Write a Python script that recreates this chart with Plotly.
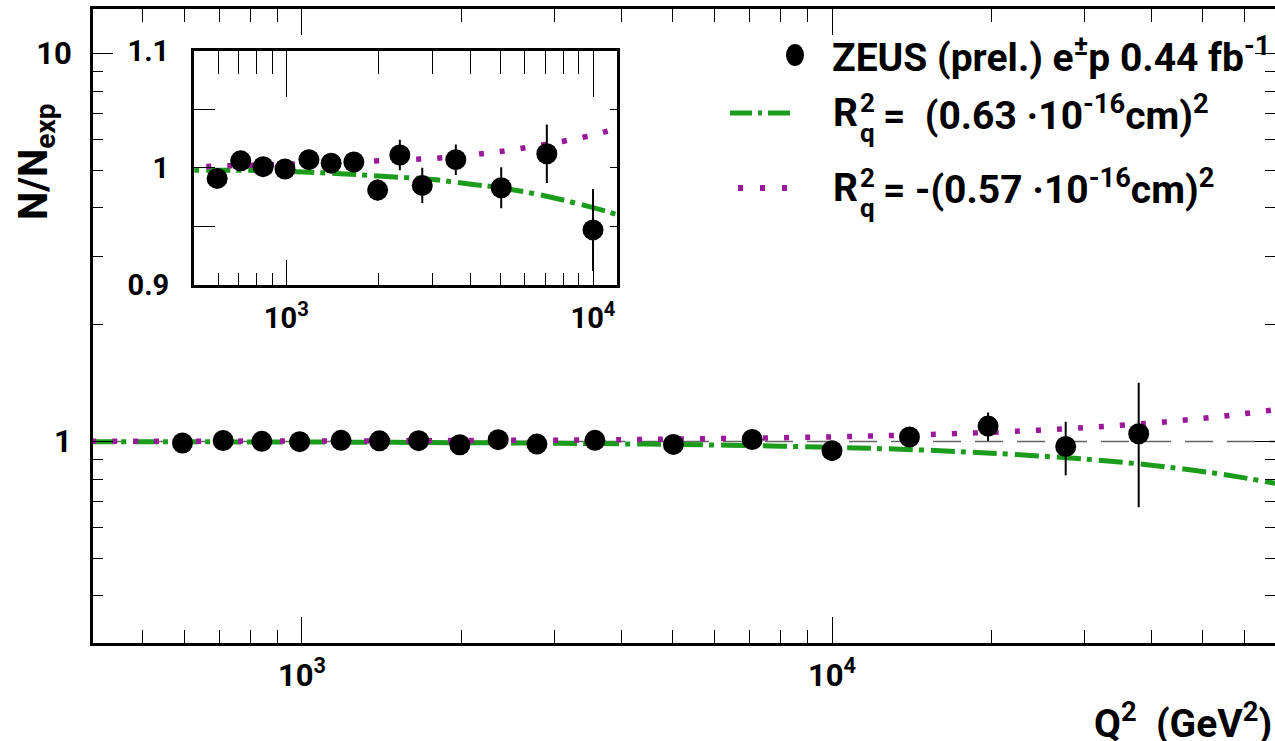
import math
import plotly.graph_objects as go

W, H = 1275, 741

# ---------------- data ----------------
Q2 = [595, 710, 840, 990, 1185, 1400, 1660, 1985, 2345, 2775, 3570, 5020, 7070,
      10000, 14000, 19700, 27600, 37900]
RATIO = [0.991, 1.006, 1.001, 0.999, 1.007, 1.004, 1.005, 0.981, 1.011, 0.985,
         1.007, 0.983, 1.012, 0.947, 1.027, 1.096, 0.971, 1.047]
ERR = [0.006, 0.006, 0.006, 0.007, 0.007, 0.008, 0.008, 0.009, 0.013, 0.015,
       0.013, 0.0175, 0.025, 0.035, 0.045, 0.092, 0.153, 0.37]
N_INSET = 14  # points shown in the inset

CURVE_Q2 = [400, 500, 700, 1000, 1500, 2000, 3000, 4000, 5000, 7000, 10000,
            12000, 15000, 20000, 30000, 40000, 50000, 60000, 70000]
R2_POS = [0.999, 0.998, 0.998, 0.997, 0.995, 0.993, 0.990, 0.986, 0.983, 0.976,
          0.966, 0.960, 0.950, 0.933, 0.901, 0.869, 0.837, 0.806, 0.776]
R2_NEG = [1.001, 1.001, 1.002, 1.003, 1.004, 1.006, 1.008, 1.011, 1.014, 1.020,
          1.028, 1.034, 1.042, 1.056, 1.086, 1.116, 1.147, 1.180, 1.213]
REF = 1.0

MAIN_X_MAJOR = [1e3, 1e4]
MAIN_X_LABELS = ["10<sup>3</sup>", "10<sup>4</sup>"]
MAIN_X_MINOR = [500, 600, 700, 800, 900, 2000, 3000, 4000, 5000, 6000, 7000,
                8000, 9000, 20000, 30000, 40000, 50000, 60000]
MAIN_Y_MAJOR = [1, 10]
MAIN_Y_LABELS = ["1", "10"]
MAIN_Y_MINOR = [0.4, 0.5, 0.6, 0.7, 0.8, 0.9, 2, 3, 4, 5, 6, 7, 8, 9]
INS_X_MINOR = [600, 700, 800, 900, 2000, 3000, 4000, 5000, 6000, 7000, 8000, 9000]
INS_Y_MAJOR = [0.9, 1.0, 1.1]
INS_Y_LABELS = ["0.9", "1", "1.1"]
INS_Y_MINOR = [0.95, 1.05]

GREEN = "#1c9c1c"
PURPLE = "#9a189a"
FONT = "Roboto, Liberation Sans, Arial, sans-serif"


def px(x):
    return x / W


def py(y):
    return 1 - y / H


GREEN_DASH = "24px,6px,5px,7px"
PURPLE_DASH = "5px,16px"

fig = go.Figure()

# ---------------- main panel ----------------
fig.add_trace(go.Scatter(x=CURVE_Q2, y=R2_POS, mode="lines", line_shape="spline",
                         line=dict(color=GREEN, width=5, dash=GREEN_DASH),
                         xaxis="x", yaxis="y", hoverinfo="skip"))
fig.add_trace(go.Scatter(x=CURVE_Q2, y=R2_NEG, mode="lines", line_shape="spline",
                         line=dict(color=PURPLE, width=5.5, dash=PURPLE_DASH),
                         xaxis="x", yaxis="y", hoverinfo="skip"))
fig.add_trace(go.Scatter(x=Q2, y=RATIO, mode="markers",
                         marker=dict(color="black", size=21),
                         error_y=dict(type="data", array=ERR, color="black",
                                      thickness=2, width=0),
                         xaxis="x", yaxis="y"))

# ---------------- inset ----------------
fig.add_trace(go.Scatter(x=CURVE_Q2, y=R2_POS, mode="lines", line_shape="spline",
                         line=dict(color=GREEN, width=5, dash=GREEN_DASH),
                         xaxis="x2", yaxis="y2", hoverinfo="skip"))
fig.add_trace(go.Scatter(x=CURVE_Q2, y=R2_NEG, mode="lines", line_shape="spline",
                         line=dict(color=PURPLE, width=5.5, dash=PURPLE_DASH),
                         xaxis="x2", yaxis="y2", hoverinfo="skip"))
fig.add_trace(go.Scatter(x=Q2[:N_INSET], y=RATIO[:N_INSET], mode="markers",
                         marker=dict(color="black", size=21),
                         error_y=dict(type="data", array=ERR[:N_INSET], color="black",
                                      thickness=2, width=0),
                         xaxis="x2", yaxis="y2"))
# carrier for the top / right tick axes of the inset
fig.add_trace(go.Scatter(x=[None], y=[None], xaxis="x3", yaxis="y3",
                         hoverinfo="skip", showlegend=False))

tick_common = dict(ticks="inside", tickcolor="black", tickwidth=1,
                   showgrid=False, zeroline=False, showline=True,
                   linecolor="black", linewidth=3, automargin=False)

main_x_range = [2.6057, 4.8358]
main_y_range = [-0.5193, 1.1147]
ins_x_range = [math.log10(500), math.log10(12000)]
ins_y_range = [0.9, 1.1]

fig.update_layout(
    template="none",
    width=W, height=H,
    autosize=False,
    margin=dict(l=0, r=0, t=0, b=0, pad=0, autoexpand=False),
    paper_bgcolor="white", plot_bgcolor="white",
    showlegend=False,
    font=dict(family=FONT, size=30, color="black", weight="bold"),
    xaxis=dict(domain=[px(93), 1.0], anchor="y", type="log", range=main_x_range,
               mirror="ticks", ticklen=26, tickmode="array",
               tickvals=MAIN_X_MAJOR, ticktext=MAIN_X_LABELS,
               ticklabelstandoff=3,
               tickfont=dict(family=FONT, size=31, weight="bold"),
               minor=dict(tickvals=MAIN_X_MINOR, ticks="inside", ticklen=13,
                          tickwidth=1, tickcolor="black"),
               **tick_common),
    yaxis=dict(domain=[py(643), py(9)], anchor="x", type="log", range=main_y_range,
               mirror="ticks", ticklen=20, tickmode="array",
               tickvals=MAIN_Y_MAJOR, ticktext=MAIN_Y_LABELS,
               ticklabelstandoff=12,
               tickfont=dict(family=FONT, size=31, weight="bold"),
               minor=dict(tickvals=MAIN_Y_MINOR, ticks="inside", ticklen=10,
                          tickwidth=1, tickcolor="black"),
               **tick_common),
    xaxis2=dict(domain=[px(194), px(617.3)], anchor="y2", type="log",
                range=ins_x_range, mirror=False, ticklen=25, tickmode="array",
                tickvals=MAIN_X_MAJOR, ticktext=MAIN_X_LABELS,
                ticklabelstandoff=5,
                tickfont=dict(family=FONT, size=29, weight="bold"),
                minor=dict(tickvals=INS_X_MINOR, ticks="inside", ticklen=12,
                           tickwidth=1, tickcolor="black"),
                **tick_common),
    yaxis2=dict(domain=[py(285), py(50.7)], anchor="x2", range=ins_y_range,
                mirror=False, ticklen=21, tickmode="array",
                tickvals=INS_Y_MAJOR, ticktext=INS_Y_LABELS,
                ticklabelstandoff=16,
                tickfont=dict(family=FONT, size=29, weight="bold"),
                minor=dict(tickvals=INS_Y_MINOR, ticks="inside", ticklen=21,
                           tickwidth=1, tickcolor="black"),
                **tick_common),
    xaxis3=dict(overlaying="x2", side="top", anchor="y2", type="log",
                range=ins_x_range, ticklen=46, tickmode="array",
                tickvals=MAIN_X_MAJOR, showticklabels=False,
                minor=dict(tickvals=INS_X_MINOR, ticks="inside", ticklen=23,
                           tickwidth=1, tickcolor="black"),
                **tick_common),
    yaxis3=dict(overlaying="y2", side="right", anchor="x2", range=ins_y_range,
                ticklen=7, tickmode="array",
                tickvals=INS_Y_MAJOR + INS_Y_MINOR, showticklabels=False,
                **tick_common),
)

# reference lines at N/Nexp = 1
fig.add_shape(type="line", xref="x domain", yref="y", x0=0, x1=1, y0=REF, y1=REF,
              line=dict(color="#666666", width=1.3, dash="28px,14px"), layer="below")
fig.add_shape(type="line", xref="x2 domain", yref="y2", x0=0, x1=1, y0=REF, y1=REF,
              line=dict(color="#888888", width=1.3, dash="22px,20px"), layer="below")

# legend glyphs
fig.add_shape(type="circle", xref="paper", yref="paper",
              x0=px(786), x1=px(804), y0=py(66), y1=py(44),
              fillcolor="black", line=dict(width=0))
fig.add_shape(type="line", xref="paper", yref="paper",
              x0=px(730), x1=px(794), y0=py(113), y1=py(113),
              line=dict(color=GREEN, width=5, dash="22px,6px,4px,6px"))
fig.add_shape(type="line", xref="paper", yref="paper",
              x0=px(738), x1=px(788), y0=py(188), y1=py(188),
              line=dict(color=PURPLE, width=6, dash="5px,17px"))

LEG_FONT = dict(family=FONT, size=39, color="black", weight="bold")
SMALL_FONT = dict(family=FONT, size=26, color="black", weight="bold")


def ann(text, x, y, font, xanchor="left", yanchor="middle", angle=0):
    fig.add_annotation(text=text, x=x, y=y, xref="paper", yref="paper",
                       xanchor=xanchor, yanchor=yanchor, showarrow=False,
                       font=font, textangle=angle)


ann("ZEUS (prel.) e<sup>±</sup>p 0.44 fb<sup>-1</sup>", px(830), py(55), LEG_FONT)
for row_y, rest in [(113, "=\u00a0\u00a0(0.63 \u00b710<sup>-16</sup>cm)<sup>2</sup>"),
                    (188, "= -(0.57 \u00b710<sup>-16</sup>cm)<sup>2</sup>")]:
    ann("R", px(831), py(row_y), LEG_FONT)
    ann("2", px(858), py(row_y - 10), SMALL_FONT)
    ann("q", px(858), py(row_y + 20), SMALL_FONT)
    ann(rest, px(881), py(row_y), LEG_FONT)

# axis titles
ann("N/N<sub>exp</sub>", px(36), py(162), dict(family=FONT, size=40, color="black",
                                                weight="bold"),
    xanchor="center", angle=-90)
ann("Q<sup>2</sup>\u00a0\u00a0(GeV<sup>2</sup>)", px(1274), py(694),
    LEG_FONT, xanchor="right", yanchor="top")

fig.write_html("out.html", config={"displayModeBar": False},
               post_script="document.body.style.margin='0px';")
